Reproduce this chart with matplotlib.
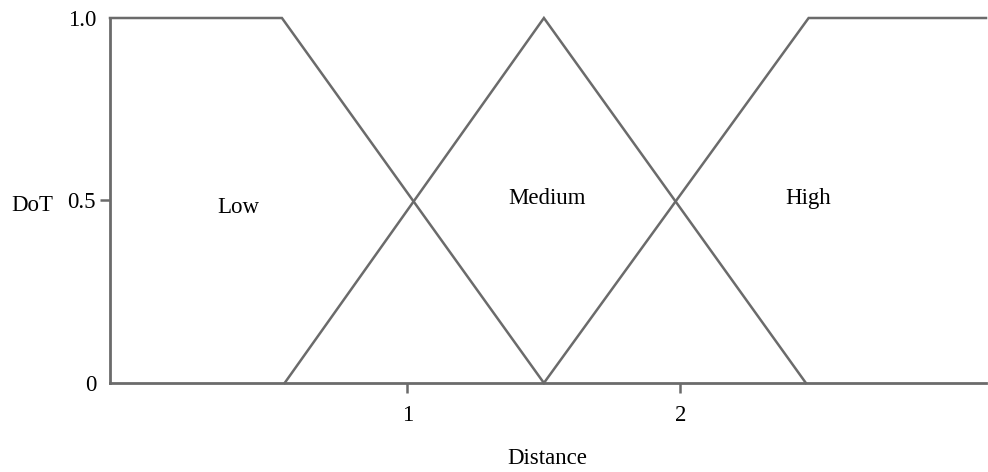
import matplotlib
matplotlib.use("Agg")
import matplotlib.pyplot as plt

# membership functions (distance vs degree of truth)
low_x = [-0.09, 0.54, 1.5]
low_y = [1, 1, 0]
med_x = [0.55, 1.5, 2.46]
med_y = [0, 1, 0]
high_x = [1.5, 2.47, 3.12]
high_y = [0, 1, 1]

labels = ["Low", "Medium", "High"]
label_x = [0.38, 1.51, 2.47]
label_y = [0.48, 0.505, 0.505]

plt.rcParams['font.family'] = ['Liberation Serif', 'DejaVu Serif']
line_col = '#6b6b6b'
fs = 16.5

fig = plt.figure(figsize=(9.88, 4.72), dpi=100)
ax = fig.add_axes([110/988, 89/472, 876/988, 365/472])

for xs, ys in [(low_x, low_y), (med_x, med_y), (high_x, high_y)]:
    ax.plot(xs, ys, color=line_col, lw=1.8, clip_on=False, solid_joinstyle='miter')

for t, x, y in zip(labels, label_x, label_y):
    ax.text(x, y, t, ha='center', va='center', fontsize=fs)

ax.set_xlim(-0.09, 3.12)
ax.set_ylim(0, 1)

for s in ['top', 'right']:
    ax.spines[s].set_visible(False)
for s in ['left', 'bottom']:
    ax.spines[s].set_color(line_col)
    ax.spines[s].set_linewidth(2)

ax.set_xticks([1, 2])
ax.set_xticklabels(['1', '2'])
ax.set_yticks([0, 0.5, 1.0])
ax.set_yticklabels(['0', '0.5', '1.0'])
ax.tick_params(axis='both', length=7, width=1.8, color=line_col, labelsize=fs)
ax.tick_params(axis='x', pad=9)
ax.tick_params(axis='y', pad=3)
yt = ax.yaxis.get_major_ticks()
yt[0].tick1line.set_visible(False)
yt[2].tick1line.set_visible(False)

fig.text(32/988, 1 - 205/472, 'DoT', ha='center', va='center', fontsize=fs)
fig.text(547/988, 1 - 458/472, 'Distance', ha='center', va='center', fontsize=fs)

fig.savefig('out.png', dpi=100)
